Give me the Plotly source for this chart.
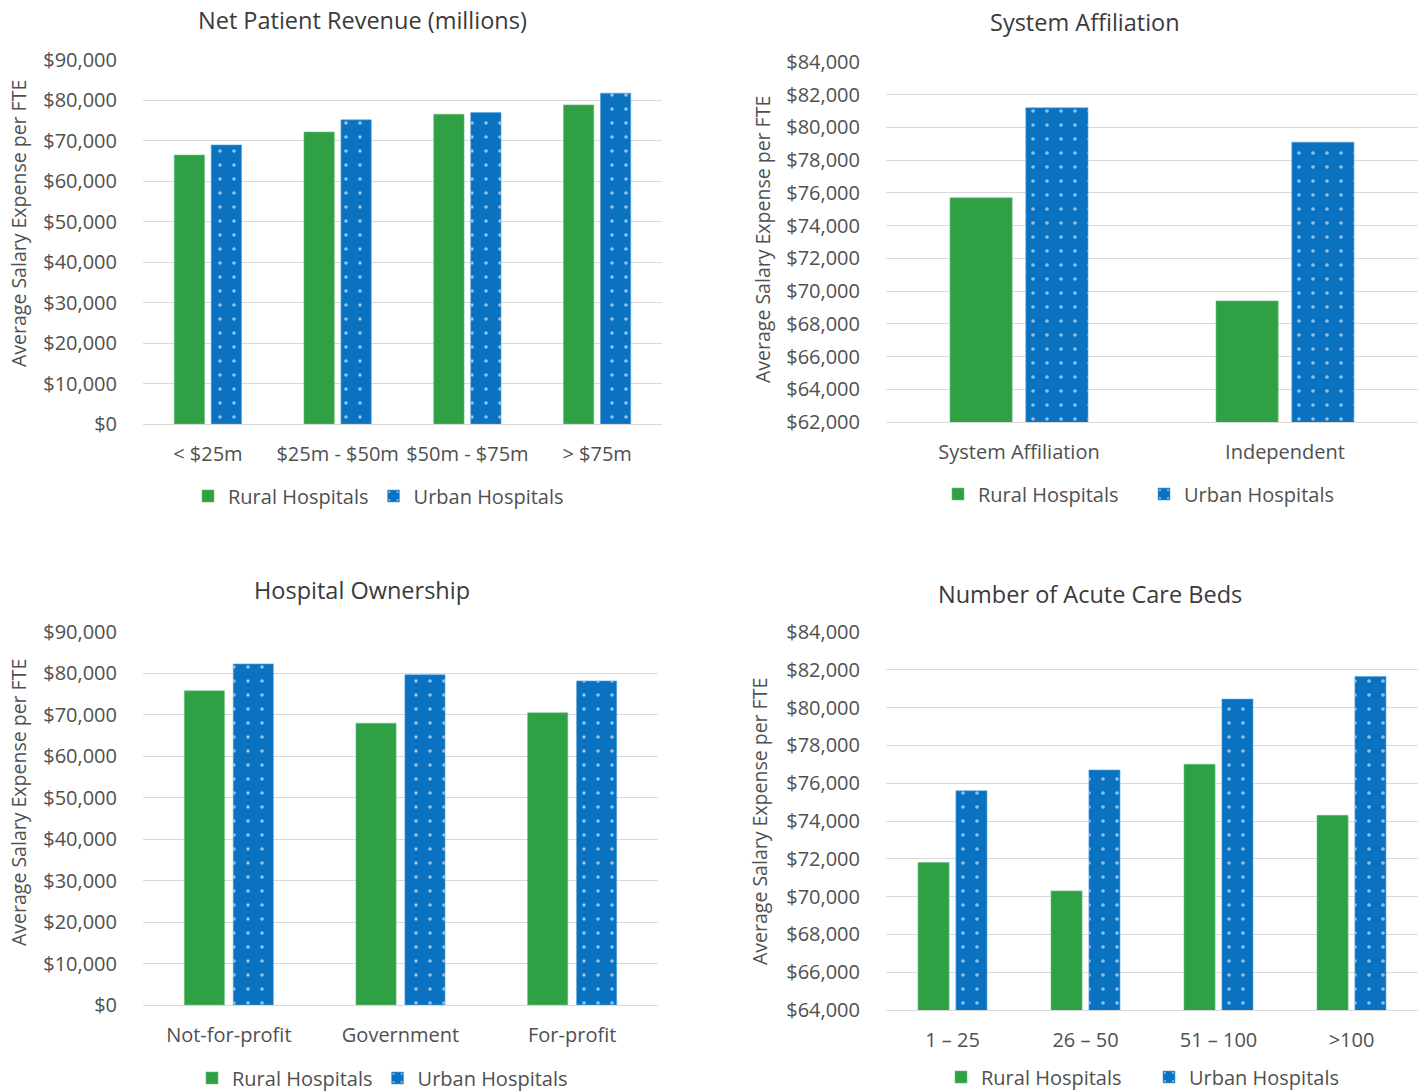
import plotly.graph_objects as go

# Salary expense per FTE, rural vs urban hospitals, by hospital characteristic
revenue_cats = ["< $25m", "$25m - $50m", "$50m - $75m", "> $75m"]
revenue_rural = [66500, 72200, 76600, 78900]
revenue_urban = [69000, 75200, 77000, 81800]

affil_cats = ["System Affiliation", "Independent"]
affil_rural = [75700, 69400]
affil_urban = [81200, 79100]

own_cats = ["Not-for-profit", "Government", "For-profit"]
own_rural = [75800, 68000, 70500]
own_urban = [82300, 79700, 78200]

beds_cats = ["1 – 25", "26 – 50", "51 – 100", ">100"]
beds_rural = [71800, 70300, 77000, 74300]
beds_urban = [75600, 76700, 80450, 81650]

titles = ["Net Patient Revenue (millions)", "System Affiliation",
          "Hospital Ownership", "Number of Acute Care Beds"]
y_title = "Average Salary Expense per FTE"

W, H = 1428, 1091
FONT = "Open Sans"
GREEN = "#2FA144"
BLUE = "#0B72C2"
GRID = "#D9D9D9"
TICK = "#505050"
TEXT = "#3A3A3A"


def fx(px):
    return px / W


def fy(py):
    return 1 - py / H


panels = [
    # cats, rural, urban, x-range px, y-range px, y range, dtick
    (revenue_cats, revenue_rural, revenue_urban, (143, 662), (60, 424), (0, 90000), 10000),
    (affil_cats, affil_rural, affil_urban, (886, 1418), (62, 422), (62000, 84000), 2000),
    (own_cats, own_rural, own_urban, (143, 658), (632, 1005), (0, 90000), 10000),
    (beds_cats, beds_rural, beds_urban, (886, 1418), (632, 1010), (64000, 84000), 2000),
]

fig = go.Figure()
layout = {}
for i, (cats, rural, urban, xr, yr, rng, dt) in enumerate(panels):
    n = "" if i == 0 else str(i + 1)
    leg = "legend" + n
    fig.add_trace(go.Bar(
        x=cats, y=rural, name="Rural Hospitals",
        marker=dict(color=GREEN, line=dict(color="#6cc07d", width=0.6)),
        xaxis="x" + n, yaxis="y" + n, legend=leg))
    fig.add_trace(go.Bar(
        x=cats, y=urban, name="Urban Hospitals",
        marker=dict(color=BLUE, line=dict(color="#5aa3dc", width=0.6),
                    pattern=dict(shape=".", fgcolor="rgba(185,215,242,0.8)",
                                 bgcolor=BLUE, size=14, solidity=0.05,
                                 fillmode="replace")),
        xaxis="x" + n, yaxis="y" + n, legend=leg))
    layout["xaxis" + n] = dict(
        domain=[fx(xr[0]), fx(xr[1])], anchor="y" + n,
        showline=True, linecolor=GRID, linewidth=1,
        showgrid=False, ticks="", tickfont=dict(size=20, color=TICK, family=FONT),
        ticklabelstandoff=12)
    layout["yaxis" + n] = dict(
        domain=[fy(yr[1]), fy(yr[0])], anchor="x" + n,
        range=list(rng), dtick=dt, tick0=0,
        tickprefix="$", tickformat=",.0f",
        showgrid=True, gridcolor=GRID, gridwidth=1,
        zeroline=False, showline=False, ticks="",
        tickfont=dict(size=20, color=TICK, family=FONT),
        ticklabelstandoff=25)

# legend x, y (px) and entry width (None = natural width)
legend_pos = [(188, 496, None), (938, 494, 161), (192, 1078, None), (941, 1077, 163)]
for i, (lx, ly, ew) in enumerate(legend_pos):
    n = "" if i == 0 else str(i + 1)
    leg = dict(
        x=fx(lx), y=fy(ly), xanchor="left", yanchor="middle",
        orientation="h", bgcolor="rgba(0,0,0,0)",
        font=dict(size=20, color=TICK, family=FONT),
        itemwidth=30, tracegroupgap=0)
    if ew is not None:
        leg.update(entrywidth=ew, entrywidthmode="pixels")
    layout["legend" + n] = leg

annotations = []
title_pos = [(362, 20), (1085, 22), (362, 590), (1090, 594)]
for t, (tx, ty) in zip(titles, title_pos):
    annotations.append(dict(text=t, x=fx(tx), y=fy(ty), xref="paper", yref="paper",
                            xanchor="center", yanchor="middle", showarrow=False,
                            font=dict(size=23.5, color=TEXT, family=FONT)))
ytitle_pos = [(18, 224), (762, 240), (18, 803), (759, 822)]
for (ax, ay) in ytitle_pos:
    annotations.append(dict(text=y_title, x=fx(ax), y=fy(ay), xref="paper", yref="paper",
                            xanchor="center", yanchor="middle", showarrow=False,
                            textangle=-90, font=dict(size=19.5, color=TICK, family=FONT)))

fig.update_layout(
    width=W, height=H, margin=dict(l=0, r=0, t=0, b=0, autoexpand=False),
    paper_bgcolor="white", plot_bgcolor="white",
    barmode="group", bargap=0.43, bargroupgap=0.18,
    font=dict(family=FONT, color=TICK),
    annotations=annotations, **layout)

fig.write_html("out.html")
